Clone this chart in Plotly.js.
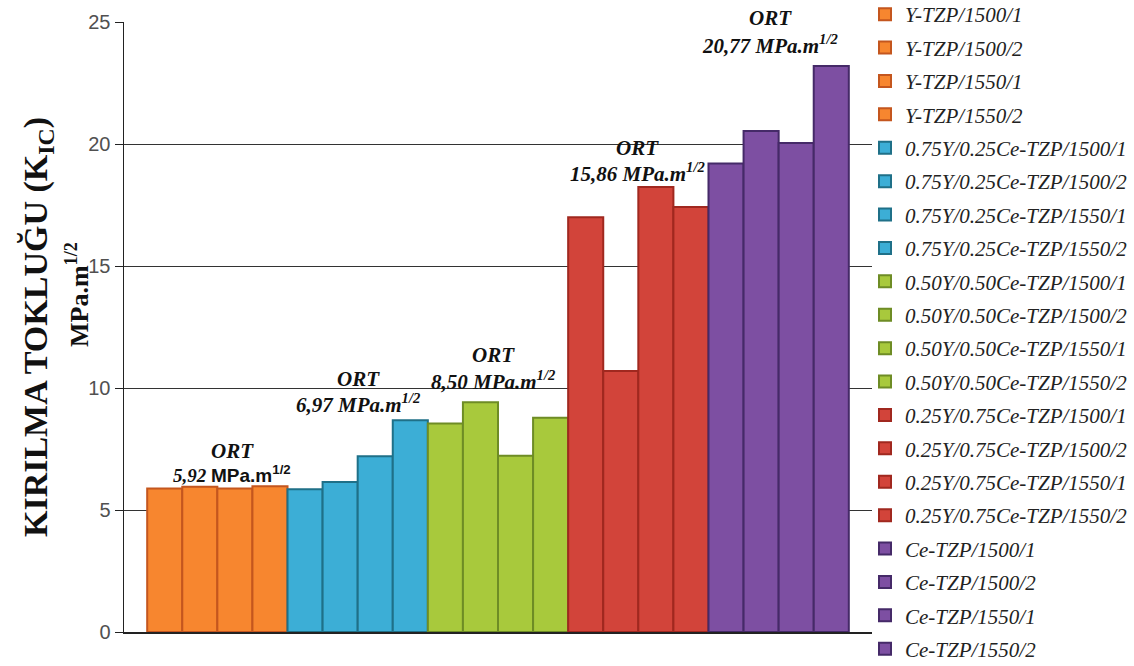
<!DOCTYPE html>
<html>
<head>
<meta charset="utf-8">
<script src="https://cdn.plot.ly/plotly-3.0.1.min.js"></script>
<style>html,body{margin:0;padding:0;background:#fff;}#chart{width:1134px;height:666px;}</style>
</head>
<body>
<div id="chart"></div>
<script>
// ---- data ----
const category = ['Numune'];
const seriesNames = [
  'Y-TZP/1500/1','Y-TZP/1500/2','Y-TZP/1550/1','Y-TZP/1550/2',
  '0.75Y/0.25Ce-TZP/1500/1','0.75Y/0.25Ce-TZP/1500/2','0.75Y/0.25Ce-TZP/1550/1','0.75Y/0.25Ce-TZP/1550/2',
  '0.50Y/0.50Ce-TZP/1500/1','0.50Y/0.50Ce-TZP/1500/2','0.50Y/0.50Ce-TZP/1550/1','0.50Y/0.50Ce-TZP/1550/2',
  '0.25Y/0.75Ce-TZP/1500/1','0.25Y/0.75Ce-TZP/1500/2','0.25Y/0.75Ce-TZP/1550/1','0.25Y/0.75Ce-TZP/1550/2',
  'Ce-TZP/1500/1','Ce-TZP/1500/2','Ce-TZP/1550/1','Ce-TZP/1550/2'
];
const kicValues = [
  5.88, 5.95, 5.88, 5.97,
  5.85, 6.15, 7.20, 8.68,
  8.55, 9.42, 7.22, 8.78,
  17.00, 10.70, 18.24, 17.42,
  19.20, 20.53, 20.04, 23.20
];
const groupAverages = ['5,92', '6,97', '8,50', '15,86', '20,77'];
const yTickValues = [0, 5, 10, 15, 20, 25];

// ---- styles ----
const fillColors = ['#F7862F', '#3CAED6', '#A8C93C', '#D2443A', '#7D4FA2'];
const lineColors = ['#C4561E', '#1F7088', '#6E8C25', '#A0281F', '#452A68'];

const traces = seriesNames.map((name, i) => {
  const g = Math.floor(i / 4);
  return {
    type: 'bar',
    name: name,
    x: category,
    y: [kicValues[i]],
    legendgroup: 'g' + i,
    marker: {color: fillColors[g], line: {color: lineColors[g], width: 2}},
    hoverinfo: 'name+y'
  };
});

const serif = 'Liberation Serif, Times New Roman, serif';
const ortFont = {family: serif, size: 21, color: '#111', weight: 'bold', style: 'italic'};

// annotation positions in pixels for "ORT" and value lines
const ortPos = [
  {x: 232, yOrt: 451, yVal: 474},
  {x: 358, yOrt: 379, yVal: 403},
  {x: 493, yOrt: 355, yVal: 380},
  {x: 637, yOrt: 148, yVal: 172},
  {x: 770, yOrt: 18, yVal: 44}
];
const plotL = 124, plotR = 872, plotT = 22, plotB = 632;
const px2paperX = px => (px - plotL) / (plotR - plotL);
const px2paperY = py => (plotB - py) / (plotB - plotT);

const annotations = [];
ortPos.forEach((p, k) => {
  annotations.push({
    xref: 'paper', yref: 'paper', x: px2paperX(p.x), y: px2paperY(p.yOrt),
    text: 'ORT', showarrow: false, font: ortFont, xanchor: 'center', yanchor: 'middle'
  });
  const valText = k === 0
    ? '<i>' + groupAverages[k] + '</i> <span style="font-family:Liberation Sans, Arial, sans-serif;font-style:normal">MPa.m<sup>1/2</sup></span>'
    : groupAverages[k] + ' MPa.m<sup>1/2</sup>';
  annotations.push({
    xref: 'paper', yref: 'paper', x: px2paperX(p.x), y: px2paperY(p.yVal),
    text: valText, showarrow: false,
    font: k === 0 ? Object.assign({}, ortFont, {size: 19}) : ortFont,
    xanchor: 'center', yanchor: 'middle'
  });
});
annotations.push({
  xref: 'paper', yref: 'paper', x: px2paperX(77), y: px2paperY(295),
  text: 'MPa.m<sup>1/2</sup>', showarrow: false, textangle: -90,
  font: {family: serif, size: 26, color: '#111', weight: 'bold'},
  xanchor: 'center', yanchor: 'middle'
});

const layout = {
  width: 1134, height: 666,
  margin: {l: plotL, r: 1134 - plotR, t: plotT, b: 666 - plotB, autoexpand: false},
  paper_bgcolor: '#fff', plot_bgcolor: '#fff',
  barmode: 'group', bargap: 0.062, bargroupgap: 0,
  showlegend: true,
  legend: {
    x: px2paperX(865), y: px2paperY(-6), xanchor: 'left', yanchor: 'top',
    font: {family: serif, size: 21, color: '#222', style: 'italic'},
    tracegroupgap: 3.1, bgcolor: 'rgba(0,0,0,0)', itemwidth: 30,
    maxheight: 700
  },
  xaxis: {
    showticklabels: false, showgrid: false, zeroline: false,
    showline: true, linecolor: '#222', linewidth: 1.5, ticks: ''
  },
  yaxis: {
    range: [0, 25], tickvals: yTickValues, ticks: 'outside', ticklen: 8, tickcolor: '#222',
    showline: true, linecolor: '#222', linewidth: 1.5,
    showgrid: true, gridcolor: '#333', gridwidth: 1, zeroline: false,
    tickfont: {family: 'Liberation Sans, Arial, sans-serif', size: 20, color: '#505050'},
    title: {
      text: 'KIRILMA TOKLUĞU (K<sub>IC</sub>)',
      font: {family: serif, size: 34, color: '#111', weight: 'bold'},
      standoff: 30
    }
  },
  annotations: annotations
};

Plotly.newPlot('chart', traces, layout, {displayModeBar: false, staticPlot: true});
</script>
</body>
</html>
